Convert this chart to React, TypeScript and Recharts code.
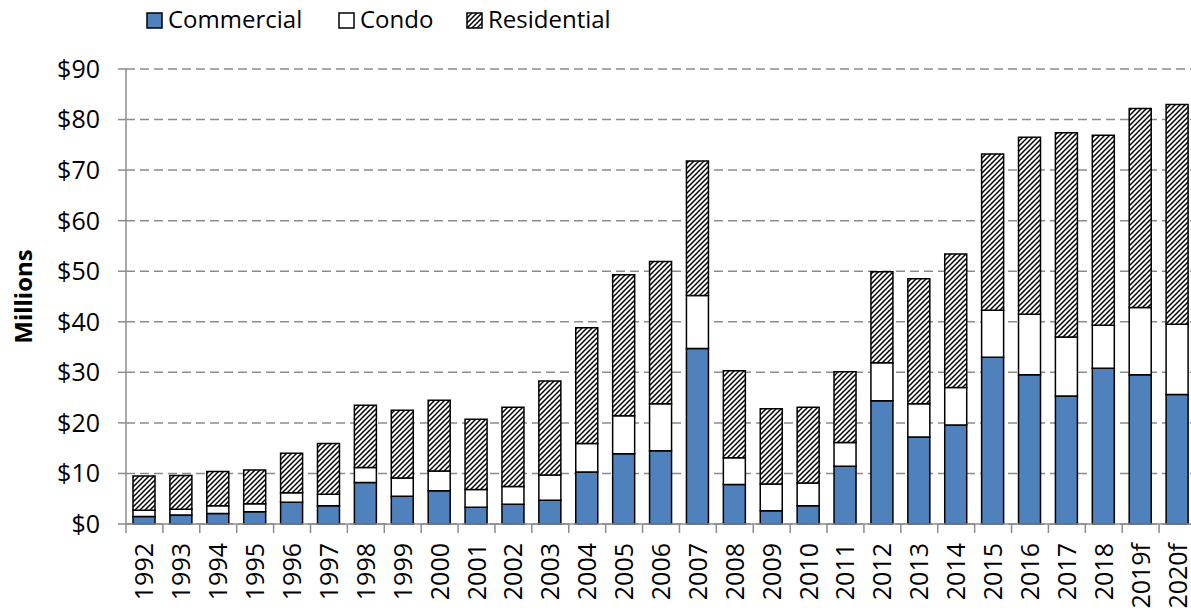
import React from "react";
import { BarChart, Bar, XAxis, YAxis, CartesianGrid } from "recharts";

const years = [
  "1992", "1993", "1994", "1995", "1996", "1997", "1998", "1999", "2000",
  "2001", "2002", "2003", "2004", "2005", "2006", "2007", "2008", "2009",
  "2010", "2011", "2012", "2013", "2014", "2015", "2016", "2017", "2018",
  "2019f", "2020f",
];

const commercial = [
  1.5, 1.8, 2.1, 2.4, 4.3, 3.6, 8.2, 5.5, 6.6, 3.3, 3.9, 4.7, 10.3, 13.9, 14.5,
  34.7, 7.8, 2.6, 3.6, 11.4, 24.4, 17.2, 19.6, 33.0, 29.5, 25.3, 30.8, 29.5, 25.6,
];

const condo = [
  1.2, 1.1, 1.5, 1.6, 1.9, 2.3, 3.0, 3.6, 3.9, 3.5, 3.5, 5.0, 5.6, 7.5, 9.3,
  10.5, 5.3, 5.3, 4.5, 4.7, 7.5, 6.6, 7.4, 9.3, 12.0, 11.7, 8.5, 13.3, 13.9,
];

const residential = [
  6.8, 6.7, 6.8, 6.7, 7.8, 10.0, 12.3, 13.4, 14.0, 13.9, 15.7, 18.6, 22.9, 27.9,
  28.1, 26.6, 17.2, 14.9, 15.0, 14.0, 18.0, 24.7, 26.4, 30.9, 35.0, 40.4, 37.6,
  39.4, 43.5,
];

const yTicks = [0, 10, 20, 30, 40, 50, 60, 70, 80, 90];

const data = years.map((year, i) => ({
  year,
  commercial: commercial[i],
  condo: condo[i],
  residential: residential[i],
}));

const FONT = "'Open Sans', 'Liberation Sans', sans-serif";
const BLUE = "#4F81BD";
const GREY = "#8C8C8C";
// plot area runs a little past the right edge of the picture, as in the source
const CHART_W = 1200;
const PLOT_LEFT = 126;
const PLOT_RIGHT = 1196;
const BAND = (PLOT_RIGHT - PLOT_LEFT) / years.length;

const YearTick = (props: any) => {
  const { x, y, payload, index } = props;
  const isLast = index === years.length - 1;
  return (
    <g>
      <line x1={x - BAND / 2} x2={x - BAND / 2} y1={y} y2={y + 9} stroke={GREY} strokeWidth={1.5} />
      {isLast && (
        <line x1={x + BAND / 2} x2={x + BAND / 2} y1={y} y2={y + 9} stroke={GREY} strokeWidth={1.5} />
      )}
      <text
        transform={`translate(${x},${y + 19}) rotate(-90)`}
        textAnchor="end"
        dy="0.36em"
        fontSize={25}
        fontFamily={FONT}
        fill="#000"
      >
        {payload.value}
      </text>
    </g>
  );
};

const legendItems = [
  { label: "Commercial", fill: BLUE, x: 147 },
  { label: "Condo", fill: "#fff", x: 339 },
  { label: "Residential", fill: "url(#hatch)", x: 467 },
];

const MillionsLabel = (props: any) => {
  const { viewBox } = props;
  const cy = viewBox.y + viewBox.height / 2;
  return (
    <text
      transform={`translate(23,${cy}) rotate(-90)`}
      textAnchor="middle"
      dy="0.36em"
      fontSize={24}
      fontWeight={700}
      fontFamily={FONT}
      fill="#000"
    >
      Millions
    </text>
  );
};

export default function App() {
  return (
    <div
      style={{
        position: "absolute",
        left: 0,
        top: 0,
        width: 1191,
        height: 612,
        overflow: "hidden",
        background: "#fff",
      }}
    >
      <svg width={720} height={40} style={{ position: "absolute", left: 0, top: 0 }}>
        <defs>
          <pattern id="hatch" patternUnits="userSpaceOnUse" width={5} height={5}>
            <rect width={5} height={5} fill="#fff" />
            <path
              d="M0,5 L5,0 M-1.25,1.25 L1.25,-1.25 M3.75,6.25 L6.25,3.75"
              stroke="#000"
              strokeWidth={1.5}
            />
          </pattern>
        </defs>
        {legendItems.map((item) => (
          <g key={item.label}>
            <rect x={item.x} y={13} width={15} height={15} fill={item.fill} stroke="#000" strokeWidth={1.5} />
            <text x={item.x + 21} y={28} fontSize={24} fontFamily={FONT} fill="#000">
              {item.label}
            </text>
          </g>
        ))}
      </svg>
      <div style={{ position: "absolute", left: 0, top: 0 }}>
        <BarChart
          width={CHART_W}
          height={612}
          data={data}
          margin={{ top: 69, right: CHART_W - PLOT_RIGHT, left: 50, bottom: 0 }}
          barSize={22}
        >
          <CartesianGrid vertical={false} stroke={GREY} strokeDasharray="9 5" strokeWidth={1.5} />
          <XAxis
            dataKey="year"
            height={88}
            interval={0}
            tick={<YearTick />}
            tickLine={false}
            tickSize={0}
            tickMargin={0}
            axisLine={{ stroke: GREY, strokeWidth: 1.5 }}
          />
          <YAxis
            width={PLOT_LEFT - 50}
            domain={[0, 90]}
            ticks={yTicks}
            interval={0}
            tickFormatter={(v: number) => `$${v}`}
            tick={{ fontSize: 25, fontFamily: FONT, fill: "#000" }}
            tickLine={{ stroke: GREY, strokeWidth: 1.5 }}
            tickSize={8}
            tickMargin={18}
            axisLine={{ stroke: GREY, strokeWidth: 1.5 }}
            label={<MillionsLabel />}
          />
          <Bar dataKey="commercial" stackId="a" fill={BLUE} stroke="#000" strokeWidth={1.5} isAnimationActive={false} />
          <Bar dataKey="condo" stackId="a" fill="#fff" stroke="#000" strokeWidth={1.5} isAnimationActive={false} />
          <Bar dataKey="residential" stackId="a" fill="url(#hatch)" stroke="#000" strokeWidth={1.5} isAnimationActive={false} />
        </BarChart>
      </div>
    </div>
  );
}
